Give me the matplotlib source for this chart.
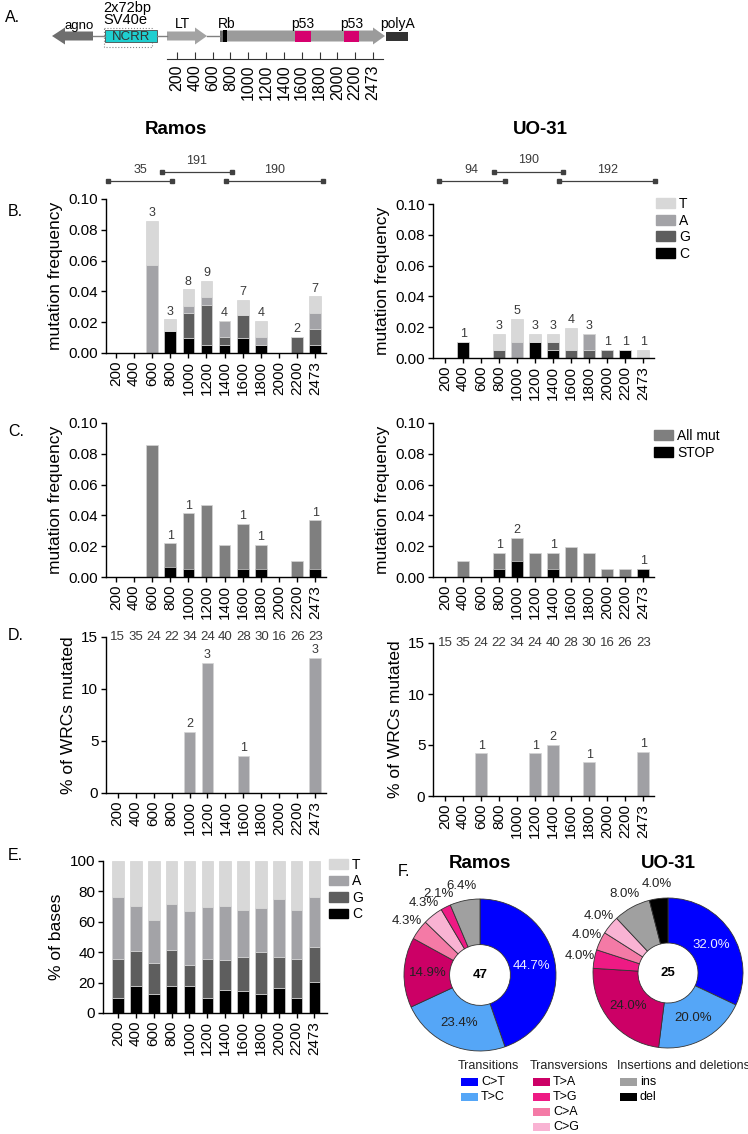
import numpy as np
import matplotlib.pyplot as plt
from matplotlib.patches import Polygon, Rectangle, Patch

plt.rcParams['font.family'] = ['Liberation Sans', 'DejaVu Sans']

W, H = 748, 1134

positions = ['200', '400', '600', '800', '1000', '1200', '1400',
             '1600', '1800', '2000', '2200', '2473']
x = np.arange(len(positions))

# B. mutation frequency by base (stacked C, G, A, T)
ramos_C = [0, 0, 0, 0.0145, 0.0100, 0.0052, 0.0052, 0.0097, 0.0052, 0, 0, 0.0052]
ramos_G = [0, 0, 0, 0, 0.0157, 0.0258, 0.0052, 0.0149, 0, 0, 0.0105, 0.0105]
ramos_A = [0, 0, 0.0571, 0, 0.0050, 0.0055, 0.0105, 0, 0.0052, 0, 0, 0.0105]
ramos_T = [0, 0, 0.0286, 0.0073, 0.0106, 0.0105, 0, 0.0097, 0.0105, 0, 0, 0.0105]
ramos_n = [0, 0, 3, 3, 8, 9, 4, 7, 4, 0, 2, 7]

uo_C = [0, 0.0104, 0, 0, 0, 0.0104, 0.0052, 0, 0, 0, 0.0052, 0]
uo_G = [0, 0, 0, 0.0052, 0, 0, 0.0052, 0.0052, 0.0052, 0.0052, 0, 0]
uo_A = [0, 0, 0, 0, 0.0104, 0, 0, 0, 0.0102, 0, 0, 0]
uo_T = [0, 0, 0, 0.0102, 0.0148, 0.0050, 0.0050, 0.0144, 0, 0, 0, 0.0052]
uo_n = [0, 1, 0, 3, 5, 3, 3, 4, 3, 1, 1, 1]

# amplicons (start, end in bar units, number of sequences)
ramos_amp = [(-0.45, 3.1, 35), (2.55, 6.4, 191), (6.1, 11.45, 190)]
uo_amp = [(-0.35, 3.3, 94), (2.7, 6.55, 190), (6.35, 11.65, 192)]

# C. STOP codons
ramos_stop = [0, 0, 0, 0.0068, 0.0052, 0, 0, 0.0052, 0.0052, 0, 0, 0.0052]
ramos_stop_n = [0, 0, 0, 1, 1, 0, 0, 1, 1, 0, 0, 1]
uo_stop = [0, 0, 0, 0.0052, 0.0104, 0, 0.0052, 0, 0, 0, 0, 0.0052]
uo_stop_n = [0, 0, 0, 1, 2, 0, 1, 0, 0, 0, 0, 1]

# D. % of WRCs mutated
wrc_counts = [15, 35, 24, 22, 34, 24, 40, 28, 30, 16, 26, 23]
ramos_wrc = [0, 0, 0, 0, 5.9, 12.5, 0, 3.6, 0, 0, 0, 13.0]
ramos_wrc_n = [0, 0, 0, 0, 2, 3, 0, 1, 0, 0, 0, 3]
uo_wrc = [0, 0, 4.2, 0, 0, 4.2, 5.0, 0, 3.3, 0, 0, 4.35]
uo_wrc_n = [0, 0, 1, 0, 0, 1, 2, 0, 1, 0, 0, 1]

# E. base composition (%)
base_C = [10.0, 17.9, 12.4, 17.9, 17.9, 10.0, 15.3, 14.2, 12.2, 16.6, 10.0, 20.5]
base_G = [25.8, 22.9, 20.4, 23.4, 13.8, 25.8, 19.4, 22.5, 28.0, 20.1, 25.4, 22.9]
base_A = [40.4, 29.7, 28.1, 30.7, 35.3, 34.1, 35.8, 31.2, 28.8, 38.4, 32.1, 32.8]
base_T = [23.8, 29.5, 39.1, 28.0, 33.0, 30.1, 29.5, 32.1, 31.0, 24.9, 32.5, 23.8]

# F. mutation spectra
ramos_cats = ['C>T', 'T>C', 'T>A', 'C>A', 'C>G', 'T>G', 'ins']
ramos_counts = [21, 11, 7, 2, 2, 1, 3]
uo_cats = ['C>T', 'T>C', 'T>A', 'T>G', 'C>A', 'C>G', 'ins', 'del']
uo_counts = [8, 5, 6, 1, 1, 1, 2, 1]

col_T, col_A, col_G, col_C = '#d8d8d8', '#a3a3a7', '#5e5e5e', '#000000'
col_all, col_stop = '#7f7f7f', '#000000'
col_wrc = '#a0a0a4'
spec_cols = {'C>T': '#0000ff', 'T>C': '#55a6f7', 'T>A': '#cc0066',
             'T>G': '#ee1a84', 'C>A': '#f47aa6', 'C>G': '#f9b3d3',
             'ins': '#a0a0a0', 'del': '#000000'}
txt_gray = '#3a3a3a'

fig = plt.figure(figsize=(W / 100, H / 100), dpi=100)


def box(l, t, r, b):
    return [l / W, 1 - b / H, (r - l) / W, (b - t) / H]


over = fig.add_axes([0, 0, 1, 1])
over.set_xlim(0, W)
over.set_ylim(H, 0)
over.axis('off')


def harrow(x0, x1, yc, bh, hh, hl, color, left=False):
    if left:
        pts = [(x1, yc - bh / 2), (x0 + hl, yc - bh / 2), (x0 + hl, yc - hh / 2), (x0, yc),
               (x0 + hl, yc + hh / 2), (x0 + hl, yc + bh / 2), (x1, yc + bh / 2)]
    else:
        pts = [(x0, yc - bh / 2), (x1 - hl, yc - bh / 2), (x1 - hl, yc - hh / 2), (x1, yc),
               (x1 - hl, yc + hh / 2), (x1 - hl, yc + bh / 2), (x0, yc + bh / 2)]
    over.add_patch(Polygon(pts, closed=True, color=color, lw=0))


# A. genome map
for a, b in [(93, 105), (157, 167), (207, 220)]:
    over.plot([a, b], [36, 36], color='#808080', lw=1)
harrow(52, 93, 36, 9, 17, 13, '#6e6e6e', left=True)
over.add_patch(Rectangle((104, 28), 48, 19, fill=False, ls=':', ec='#888888', lw=0.8))
over.add_patch(Rectangle((105, 30), 52, 12, fc='#1fcfd0', ec='#4a4a4a', lw=0.6))
over.text(131, 36.5, 'NCRR', ha='center', va='center', fontsize=9.5, color='#333333')
harrow(167, 207, 36, 9, 17, 12, '#a3a3a3')
harrow(220, 385, 36, 11, 17, 12, '#9b9b9b')
over.add_patch(Rectangle((220, 30.5), 3, 11, color='#6e6e6e', lw=0))
over.add_patch(Rectangle((223, 30), 4.5, 12, color='#000000', lw=0))
over.add_patch(Rectangle((295, 30.5), 16, 11, color='#d6006e', lw=0))
over.add_patch(Rectangle((344, 30.5), 15, 11, color='#d6006e', lw=0))
over.add_patch(Rectangle((386, 32), 22, 9, color='#333333', lw=0))
for lx, ly, s, ha, fs in [(79, 26, 'agno', 'center', 9.5), (103, 8, '2x72bp', 'left', 10.5),
                          (103, 20, 'SV40e', 'left', 10.5), (183, 24, 'LT', 'center', 10),
                          (227, 24, 'Rb', 'center', 10), (303, 24, 'p53', 'center', 10),
                          (352, 24, 'p53', 'center', 10), (398, 24, 'polyA', 'center', 10)]:
    over.text(lx, ly, s, ha=ha, va='center', fontsize=fs)

scale = fig.add_axes(box(167, 45, 383, 59))
scale.set_xlim(-0.56, 11.56)
scale.set_ylim(0, 1)
for s in ['top', 'right', 'left']:
    scale.spines[s].set_visible(False)
scale.spines['bottom'].set_color('#333333')
scale.set_yticks([])
scale.set_xticks(x)
scale.set_xticklabels(positions, rotation=90, fontsize=11.5)
scale.tick_params(axis='x', direction='in', length=5, width=0.8, color='#333333', pad=4)
scale.patch.set_alpha(0)

# panel letters and titles
for lx, ly, s in [(5, 18, 'A.'), (8, 212, 'B.'), (8, 432, 'C.'), (8, 636, 'D.'),
                  (8, 855, 'E.'), (398, 872, 'F.')]:
    over.text(lx, ly, s, ha='left', va='center', fontsize=11.5)
over.text(176, 130, 'Ramos', ha='center', va='center', fontsize=13.5, fontweight='bold')
over.text(540, 130, 'UO-31', ha='center', va='center', fontsize=13.5, fontweight='bold')


def style(ax, xlim, ylim, yticks, fmt):
    for s in ['top', 'right']:
        ax.spines[s].set_visible(False)
    for s in ['left', 'bottom']:
        ax.spines[s].set_linewidth(1.0)
    ax.set_xlim(*xlim)
    ax.set_ylim(*ylim)
    ax.set_xticks(x)
    ax.set_xticklabels(positions, rotation=90)
    ax.set_yticks(yticks)
    ax.set_yticklabels([fmt.format(v) for v in yticks])
    ax.tick_params(direction='out', length=3.5, width=1, labelsize=11, pad=2)
    ax.patch.set_alpha(0)


def count_labels(ax, tops, ns, off):
    for i, (t, n) in enumerate(zip(tops, ns)):
        if n:
            ax.text(i, t + off, str(n), ha='center', va='bottom', fontsize=9, color=txt_gray)


bw = 0.65
ecol = '#d4d4d4'


def stacked(ax, layers, colors):
    bottom = np.zeros(len(x))
    for vals, c in zip(layers, colors):
        ax.bar(x, vals, bw, bottom=bottom, color=c, edgecolor=ecol, linewidth=0.5)
        bottom = bottom + np.array(vals)
    return bottom


def amplicons(ax, amps, ylow, yhigh):
    tr = ax.get_xaxis_transform()
    for k, (a, b, n) in enumerate(amps):
        yy = yhigh if k == 1 else ylow
        ax.plot([a, b], [yy, yy], color='#404040', lw=0.9, marker='s', ms=2.2,
                transform=tr, clip_on=False)
        ax.text((a + b) / 2, yy + 0.035, str(n), ha='center', va='bottom', fontsize=9,
                color=txt_gray, transform=tr)


yt_b = [0, 0.02, 0.04, 0.06, 0.08, 0.10]

# B
axb1 = fig.add_axes(box(106, 199, 326, 353))
tot = stacked(axb1, [ramos_C, ramos_G, ramos_A, ramos_T], [col_C, col_G, col_A, col_T])
count_labels(axb1, tot, ramos_n, 0.0012)
style(axb1, (-0.55, 11.6), (0, 0.10), yt_b, '{:.2f}')
axb1.set_ylabel('mutation frequency', fontsize=12.5)
amplicons(axb1, ramos_amp, 1.117, 1.175)

axb2 = fig.add_axes(box(433, 204, 654, 358))
tot_u = stacked(axb2, [uo_C, uo_G, uo_A, uo_T], [col_C, col_G, col_A, col_T])
count_labels(axb2, tot_u, uo_n, 0.0012)
style(axb2, (-0.67, 11.6), (0, 0.10), yt_b, '{:.2f}')
axb2.set_ylabel('mutation frequency', fontsize=12.5)
amplicons(axb2, uo_amp, 1.15, 1.21)
axb2.legend(handles=[Patch(color=c) for c in [col_T, col_A, col_G, col_C]],
            labels=['T', 'A', 'G', 'C'], loc='upper left', bbox_to_anchor=(1.01, 1.045),
            frameon=False, fontsize=10, handlelength=1.35, handleheight=0.7,
            handletextpad=0.3, labelspacing=0.18, borderpad=0, borderaxespad=0)

# C
axc1 = fig.add_axes(box(106, 423, 326, 577))
axc1.bar(x, tot, bw, color=col_all, edgecolor=ecol, linewidth=0.5)
axc1.bar(x, ramos_stop, bw, color=col_stop, edgecolor=ecol, linewidth=0.5)
count_labels(axc1, tot, ramos_stop_n, 0.0012)
style(axc1, (-0.55, 11.6), (0, 0.10), yt_b, '{:.2f}')
axc1.set_ylabel('mutation frequency', fontsize=12.5)

axc2 = fig.add_axes(box(433, 423, 654, 577))
axc2.bar(x, tot_u, bw, color=col_all, edgecolor=ecol, linewidth=0.5)
axc2.bar(x, uo_stop, bw, color=col_stop, edgecolor=ecol, linewidth=0.5)
count_labels(axc2, tot_u, uo_stop_n, 0.0012)
style(axc2, (-0.67, 11.6), (0, 0.10), yt_b, '{:.2f}')
axc2.set_ylabel('mutation frequency', fontsize=12.5)
axc2.legend(handles=[Patch(color=col_all), Patch(color=col_stop)],
            labels=['All mut', 'STOP'], loc='upper left', bbox_to_anchor=(1.0, 0.96),
            frameon=False, fontsize=10, handlelength=1.35, handleheight=0.7,
            handletextpad=0.3, labelspacing=0.18, borderpad=0, borderaxespad=0)

# D
yt_d = [0, 5, 10, 15]
for box_px, vals, ns, xl in [((106, 637, 326, 793), ramos_wrc, ramos_wrc_n, (-0.65, 11.6)),
                             ((433, 643, 654, 796), uo_wrc, uo_wrc_n, (-0.67, 11.6))]:
    axd = fig.add_axes(box(*box_px))
    axd.bar(x, vals, bw, color=col_wrc, edgecolor=ecol, linewidth=0.5)
    count_labels(axd, vals, ns, 0.15)
    for i, n in enumerate(wrc_counts):
        axd.text(i, 15, str(n), ha='center', va='center', fontsize=9.5, color=txt_gray)
    style(axd, xl, (0, 15), yt_d, '{:d}')
    axd.set_ylabel('% of WRCs mutated', fontsize=12.5)

# E
axe = fig.add_axes(box(103, 861, 327, 1013))
stacked(axe, [base_C, base_G, base_A, base_T], [col_C, col_G, col_A, col_T])
style(axe, (-0.84, 11.7), (0, 100), [0, 20, 40, 60, 80, 100], '{:d}')
axe.set_ylabel('% of bases', fontsize=12.5)
axe.legend(handles=[Patch(color=c) for c in [col_T, col_A, col_G, col_C]],
           labels=['T', 'A', 'G', 'C'], loc='upper left', bbox_to_anchor=(1.01, 1.02),
           frameon=False, fontsize=10, handlelength=1.35, handleheight=0.7,
           handletextpad=0.3, labelspacing=0.18, borderpad=0, borderaxespad=0)

# F
for (cx, cy, r), cats, counts, title in [((480, 975, 76), ramos_cats, ramos_counts, 'Ramos'),
                                         ((668, 973, 75), uo_cats, uo_counts, 'UO-31')]:
    axp = fig.add_axes(box(cx - r, cy - r, cx + r, cy + r))
    axp.pie(counts, colors=[spec_cols[c] for c in cats], startangle=90, counterclock=False,
            radius=1, wedgeprops=dict(width=0.6, edgecolor='#333333', linewidth=0.6))
    axp.set_xlim(-1, 1)
    axp.set_ylim(-1, 1)
    axp.set_aspect('equal')
    total = sum(counts)
    axp.text(0, 0, str(total), ha='center', va='center', fontsize=9.5, fontweight='bold')
    cum = 0
    for c, cat in zip(counts, cats):
        mid = np.deg2rad(90 - (cum + c / 2) / total * 360)
        pct = 100 * c / total
        rr = 0.69 if pct > 10 else 1.2
        tc = '#eeeeff' if cat == 'C>T' else '#222222'
        axp.text(rr * np.cos(mid), rr * np.sin(mid), f'{pct:.1f}%', ha='center',
                 va='center', fontsize=9.5, color=tc, clip_on=False)
        cum += c
    over.text(cx, 863, title, ha='center', va='center', fontsize=13.5, fontweight='bold')

legend_groups = [(458, 'Transitions', ['C>T', 'T>C']),
                 (530, 'Transversions', ['T>A', 'T>G', 'C>A', 'C>G']),
                 (617, 'Insertions and deletions', ['ins', 'del'])]
for lx, title, cats in legend_groups:
    over.text(lx, 1066, title, ha='left', va='center', fontsize=9, color='#222222')
    for k, cat in enumerate(cats):
        yy = 1082 + 15 * k
        over.add_patch(Rectangle((lx + 3, yy - 4), 17, 8, color=spec_cols[cat], lw=0))
        over.text(lx + 23, yy, cat, ha='left', va='center', fontsize=9)

fig.savefig('out.png', dpi=100)
